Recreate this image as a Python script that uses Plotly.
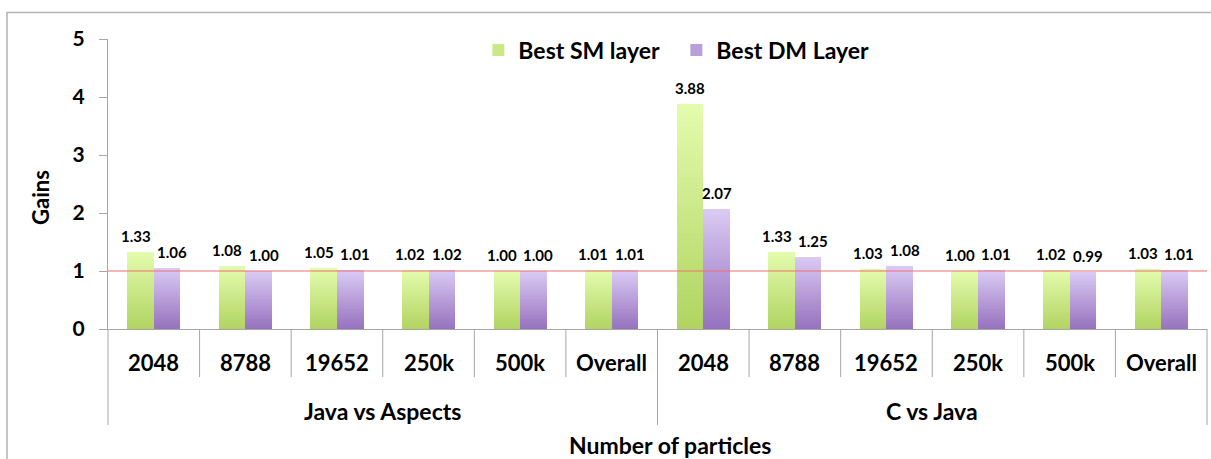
import plotly.graph_objects as go

# Comparison groups and particle counts on the category axis
groups = ["Java vs Aspects", "C vs Java"]
particles = ["2048", "8788", "19652", "250k", "500k", "Overall"]

# Gains per category (Java vs Aspects first, then C vs Java)
best_sm = [1.33, 1.08, 1.05, 1.02, 1.00, 1.01, 3.88, 1.33, 1.03, 1.00, 1.02, 1.03]
best_dm = [1.06, 1.00, 1.01, 1.02, 1.00, 1.01, 2.07, 1.25, 1.08, 1.01, 0.99, 1.01]

series_names = ["Best SM layer", "Best DM Layer"]
reference_gain = 1.0

FONT = "Lato"
N_SLICES = 40
BAR_W = 0.29

categories = [p for _ in groups for p in particles]
n_cat = len(categories)
xs = list(range(n_cat))


def blend(c0, c1, t):
    return "rgb({},{},{})".format(*[round(a + (b - a) * t) for a, b in zip(c0, c1)])


fig = go.Figure()

series = [
    (series_names[0], best_sm, -BAR_W, (176, 211, 96), (228, 252, 174)),
    (series_names[1], best_dm, 0.0, (150, 113, 190), (218, 202, 244)),
]

for name, vals, offset, c_bottom, c_top in series:
    # vertical gradient: each bar is built from equal stacked slices
    for k in range(N_SLICES):
        t = (k + 0.5) / N_SLICES
        fig.add_trace(go.Bar(
            x=xs,
            y=[v / N_SLICES for v in vals],
            base=[v * k / N_SLICES for v in vals],
            width=BAR_W,
            offset=offset,
            marker=dict(color=blend(c_bottom, c_top, t), line=dict(width=0)),
            name=name,
            legendgroup=name,
            showlegend=(k == N_SLICES // 2),
            hoverinfo="skip",
        ))

axis_grey = "#a6a6a6"

shapes = []
# reference line at gain = 1
shapes.append(dict(type="line", xref="paper", yref="y", x0=0, x1=1,
                   y0=reference_gain, y1=reference_gain, layer="above",
                   line=dict(color="rgba(240,110,110,0.5)", width=2)))
# category separators below the axis
for k in range(n_cat + 1):
    outer = k % len(particles) == 0
    shapes.append(dict(type="line", xref="paper", yref="paper",
                       x0=k / n_cat, x1=k / n_cat, y0=0,
                       y1=-0.331 if outer else -0.166,
                       line=dict(color=axis_grey, width=1)))
# chart frame
shapes.append(dict(type="rect", xref="paper", yref="paper",
                   x0=-0.0919, x1=1.05, y0=-0.6, y1=1.0914,
                   line=dict(color="#b3b3b3", width=1.5), layer="below"))

annotations = []
# value labels above each bar; neighbouring labels at similar heights are nudged apart
label_font = dict(family=FONT, size=15, color="black", weight="bold")
for i, (sm, dm) in enumerate(zip(best_sm, best_dm)):
    nudge = 5 if abs(sm - dm) < 0.3 else 0
    annotations.append(dict(x=i - BAR_W / 2, xref="x", y=sm, yref="y",
                            text=f"{sm:.2f}", showarrow=False, yanchor="bottom",
                            xshift=-nudge, yshift=5, font=label_font))
    annotations.append(dict(x=i + BAR_W / 2, xref="x", y=dm, yref="y",
                            text=f"{dm:.2f}", showarrow=False, yanchor="bottom",
                            xshift=nudge, yshift=5, font=label_font))
for i, lab in enumerate(categories):
    annotations.append(dict(x=i, xref="x", y=-0.114, yref="paper",
                            text=lab, showarrow=False, yanchor="middle",
                            font=dict(family=FONT, size=22, color="black", weight="bold")))
for g, gname in enumerate(groups):
    annotations.append(dict(x=g * len(particles) + (len(particles) - 1) / 2, xref="x",
                            y=-0.283, yref="paper", text=gname, showarrow=False,
                            yanchor="middle",
                            font=dict(family=FONT, size=23, color="black", weight="bold")))
annotations.append(dict(x=0.511, xref="paper", y=-0.40, yref="paper",
                        text="Number of particles", showarrow=False, yanchor="middle",
                        font=dict(family=FONT, size=23, color="black", weight="bold")))
annotations.append(dict(x=-0.062, xref="paper", y=0.455, yref="paper",
                        text="Gains", showarrow=False, textangle=-90,
                        xanchor="center", yanchor="middle",
                        font=dict(family=FONT, size=22, color="black", weight="bold")))

fig.update_layout(
    width=1211,
    height=459,
    margin=dict(l=108, r=4, t=39, b=130),
    paper_bgcolor="white",
    plot_bgcolor="white",
    barmode="overlay",
    bargap=0,
    showlegend=True,
    legend=dict(orientation="h", x=0.337, y=0.962, xanchor="left", yanchor="middle",
                font=dict(family=FONT, size=23, color="black", weight="bold"),
                bgcolor="rgba(0,0,0,0)", itemwidth=30, traceorder="normal",
                entrywidth=153, entrywidthmode="pixels"),
    xaxis=dict(range=[-0.5, n_cat - 0.5], showticklabels=False, ticks="",
               showgrid=False, zeroline=False, showline=True,
               linecolor=axis_grey, linewidth=1, fixedrange=True),
    yaxis=dict(range=[0, 5], dtick=1, showgrid=False, zeroline=False,
               showline=True, linecolor=axis_grey, linewidth=1,
               ticks="outside", ticklen=8, tickcolor=axis_grey,
               ticklabelstandoff=10,
               tickfont=dict(family=FONT, size=21, color="black", weight="bold")),
    shapes=shapes,
    annotations=annotations,
)

fig.write_html("out.html")
